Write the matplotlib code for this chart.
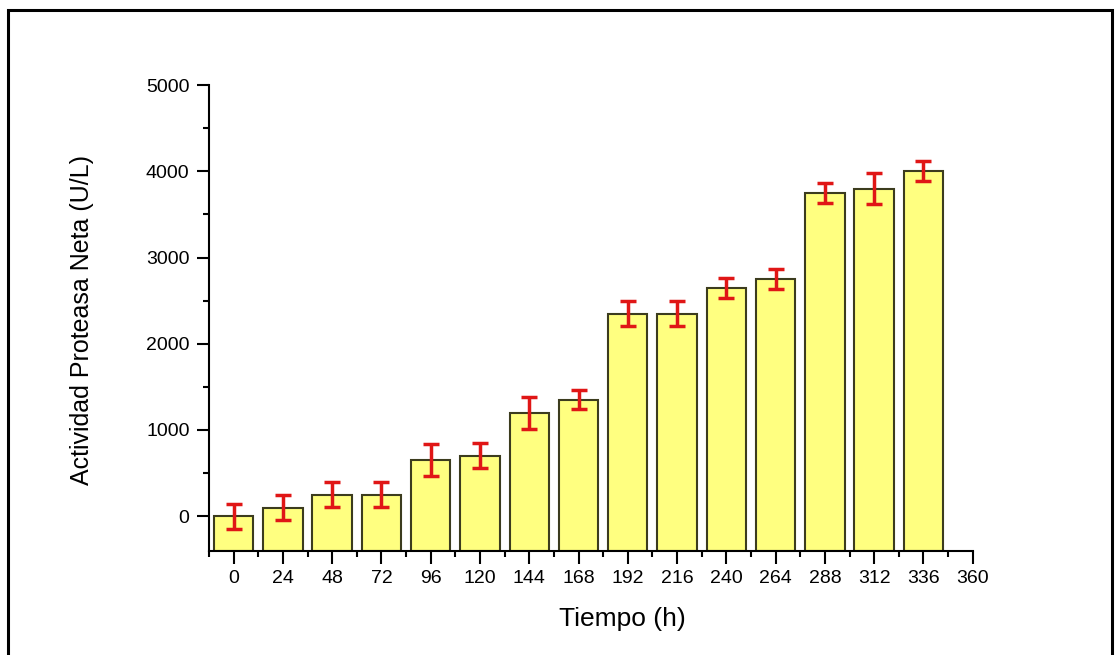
import matplotlib.pyplot as plt
from matplotlib.patches import Rectangle
from matplotlib.ticker import MultipleLocator

# tiempo de cultivo (h) y actividad proteasa neta (U/L)
tiempo = [0, 24, 48, 72, 96, 120, 144, 168, 192, 216, 240, 264, 288, 312, 336]
actividad = [0, 100, 250, 250, 650, 700, 1200, 1350, 2350, 2350, 2650, 2750, 3750, 3800, 4000]
error = [145, 145, 145, 145, 185, 145, 185, 112, 140, 140, 115, 115, 117, 185, 115]

y_min = -400

plt.rcParams['font.family'] = ['Liberation Sans', 'DejaVu Sans']

fig = plt.figure(figsize=(11.17, 6.55), dpi=100)
ax = fig.add_axes([0.1871, 0.1592, 0.6837, 0.7110])

# barras desde el borde inferior del eje
alturas = [a - y_min for a in actividad]
ax.bar(tiempo, alturas, bottom=y_min, width=19.2, color='#ffff80',
       edgecolor='#3c3c1e', linewidth=1.5, zorder=2)
ax.errorbar(tiempo, actividad, yerr=error, fmt='none', ecolor='#e01616',
            elinewidth=2.5, capsize=6, capthick=2.5, zorder=3)

ax.set_xlim(-12, 360)
ax.set_ylim(y_min, 5000)
ax.set_xticks(range(0, 361, 24))
ax.set_yticks(range(0, 5001, 1000))
ax.xaxis.set_minor_locator(MultipleLocator(12))
ax.yaxis.set_minor_locator(MultipleLocator(500))

for s in ['top', 'right']:
    ax.spines[s].set_visible(False)
for s in ['left', 'bottom']:
    ax.spines[s].set_linewidth(1.5)

ax.tick_params(which='major', length=9, width=1.5, labelsize=14, pad=5)
ax.tick_params(which='minor', length=4, width=1.5)

ax.set_xlabel('Tiempo (h)', fontsize=19)
ax.set_ylabel('Actividad Proteasa Neta (U/L)', fontsize=18)
ax.xaxis.set_label_coords(0.541, -0.12)
ax.yaxis.set_label_coords(-0.151, 0.495)

# marco alrededor de la figura
fig.patches.append(Rectangle((8 / 1117, -0.05), 1104 / 1117, 1.05 - 10 / 655,
                             transform=fig.transFigure, fill=False,
                             edgecolor='black', linewidth=2.2))

fig.savefig('out.png', dpi=100)
